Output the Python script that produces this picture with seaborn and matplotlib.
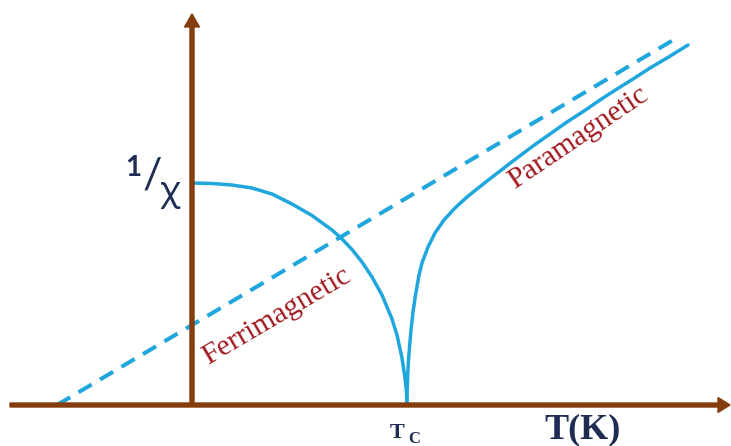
import matplotlib
matplotlib.use("Agg")
import matplotlib.pyplot as plt
import seaborn as sns
import pandas as pd

# Temperature (arbitrary units, origin at T = 0) and inverse susceptibility
ferri_T = [0.00, 0.20, 0.40, 0.60, 0.80, 1.00, 1.20, 1.40, 1.50, 1.60, 1.70, 1.80,
           1.90, 2.00, 2.05, 2.10, 2.13, 2.145, 2.15]
ferri_inv_chi = [2.22, 2.215, 2.20, 2.17, 2.11, 2.01, 1.895, 1.75, 1.66, 1.555, 1.43, 1.28,
                 1.10, 0.86, 0.70, 0.47, 0.27, 0.13, 0.00]

para_T = [2.15, 2.152, 2.157, 2.165, 2.177, 2.19, 2.21, 2.235, 2.27, 2.30, 2.36, 2.43,
          2.52, 2.63, 2.75, 2.90, 3.08, 3.25, 3.41, 3.58, 3.75, 3.92, 4.08, 4.25,
          4.41, 4.58, 4.75, 4.96]
para_inv_chi = [0.00, 0.15, 0.30, 0.45, 0.60, 0.75, 0.93, 1.10, 1.30, 1.42, 1.58, 1.72,
                1.85, 1.97, 2.08, 2.20, 2.34, 2.47, 2.59, 2.71, 2.83, 2.94, 3.05, 3.16,
                3.26, 3.37, 3.47, 3.60]

# Curie-Weiss asymptote (extrapolated linear high-temperature behaviour)
asym_T = [-1.35, 4.88]
asym_inv_chi = [0.00, 3.69]

T_c = 2.15

curve_color = "#1FA6DD"
axis_color = "#843C0C"
navy = "#1F2D55"
label_red = "#A0181E"

sns.set_theme(style="white")
plt.rcParams["font.family"] = ["DejaVu Sans"]

fig = plt.figure(figsize=(7.31, 4.46), dpi=100)
ax = fig.add_axes([0, 0, 1, 1])
ax.set_xlim(-1.92, 5.39)
ax.set_ylim(-0.41, 4.05)
ax.set_axis_off()

ferri = pd.DataFrame({"T": ferri_T, "inv_chi": ferri_inv_chi})
para = pd.DataFrame({"T": para_T, "inv_chi": para_inv_chi})
asym = pd.DataFrame({"T": asym_T, "inv_chi": asym_inv_chi})

sns.lineplot(data=asym, x="T", y="inv_chi", ax=ax, sort=False, estimator=None,
             color=curve_color, linewidth=2.9, zorder=2)
ax.lines[-1].set_dashes([3.8, 2.4])
sns.lineplot(data=ferri, x="T", y="inv_chi", ax=ax, sort=False, estimator=None,
             color=curve_color, linewidth=2.5, zorder=3)
sns.lineplot(data=para, x="T", y="inv_chi", ax=ax, sort=False, estimator=None,
             color=curve_color, linewidth=2.5, zorder=3)
for line in ax.lines:
    line.set_solid_joinstyle("round")
    line.set_solid_capstyle("round")

# Axes drawn as arrows
ax.arrow(-1.82, 0.0, 7.20, 0.0, width=0.04, head_width=0.15, head_length=0.12,
         length_includes_head=True, color=axis_color, zorder=4)
ax.arrow(0.0, 0.0, 0.0, 3.91, width=0.04, head_width=0.15, head_length=0.13,
         length_includes_head=True, color=axis_color, zorder=4)

# Region labels
ax.text(0.16, 0.40, "Ferrimagnetic", rotation=30.5, rotation_mode="anchor",
        ha="left", va="baseline", fontsize=21.5, color=label_red,
        family=["Liberation Serif"])
ax.text(3.23, 2.16, "Paramagnetic", rotation=34, rotation_mode="anchor",
        ha="left", va="baseline", fontsize=21.5, color=label_red,
        family=["Liberation Serif"])

# 1/chi axis label
ax.text(-0.59, 2.37, "1", ha="center", va="center", fontsize=20,
        fontweight="bold", color=navy, family=["Lato"])
ax.text(-0.40, 2.29, "/", ha="center", va="center", fontsize=31,
        color=navy, family=["Lato"])
ax.text(-0.22, 2.13, "χ", ha="center", va="center", fontsize=25,
        color=navy, family=["Noto Sans"])

# Temperature axis labels
ax.text(T_c - 0.10, -0.33, "T", ha="center", va="baseline", fontsize=16,
        color=navy, family=["Liberation Serif"], fontweight="bold")
ax.text(T_c + 0.07, -0.38, "C", ha="center", va="baseline", fontsize=12,
        color=navy, family=["Liberation Serif"], fontweight="bold")
ax.text(3.91, -0.33, "T(K)", ha="center", va="baseline", fontsize=26,
        fontweight="bold", color=navy, family=["Liberation Serif"])

fig.savefig("out.png", dpi=100)
